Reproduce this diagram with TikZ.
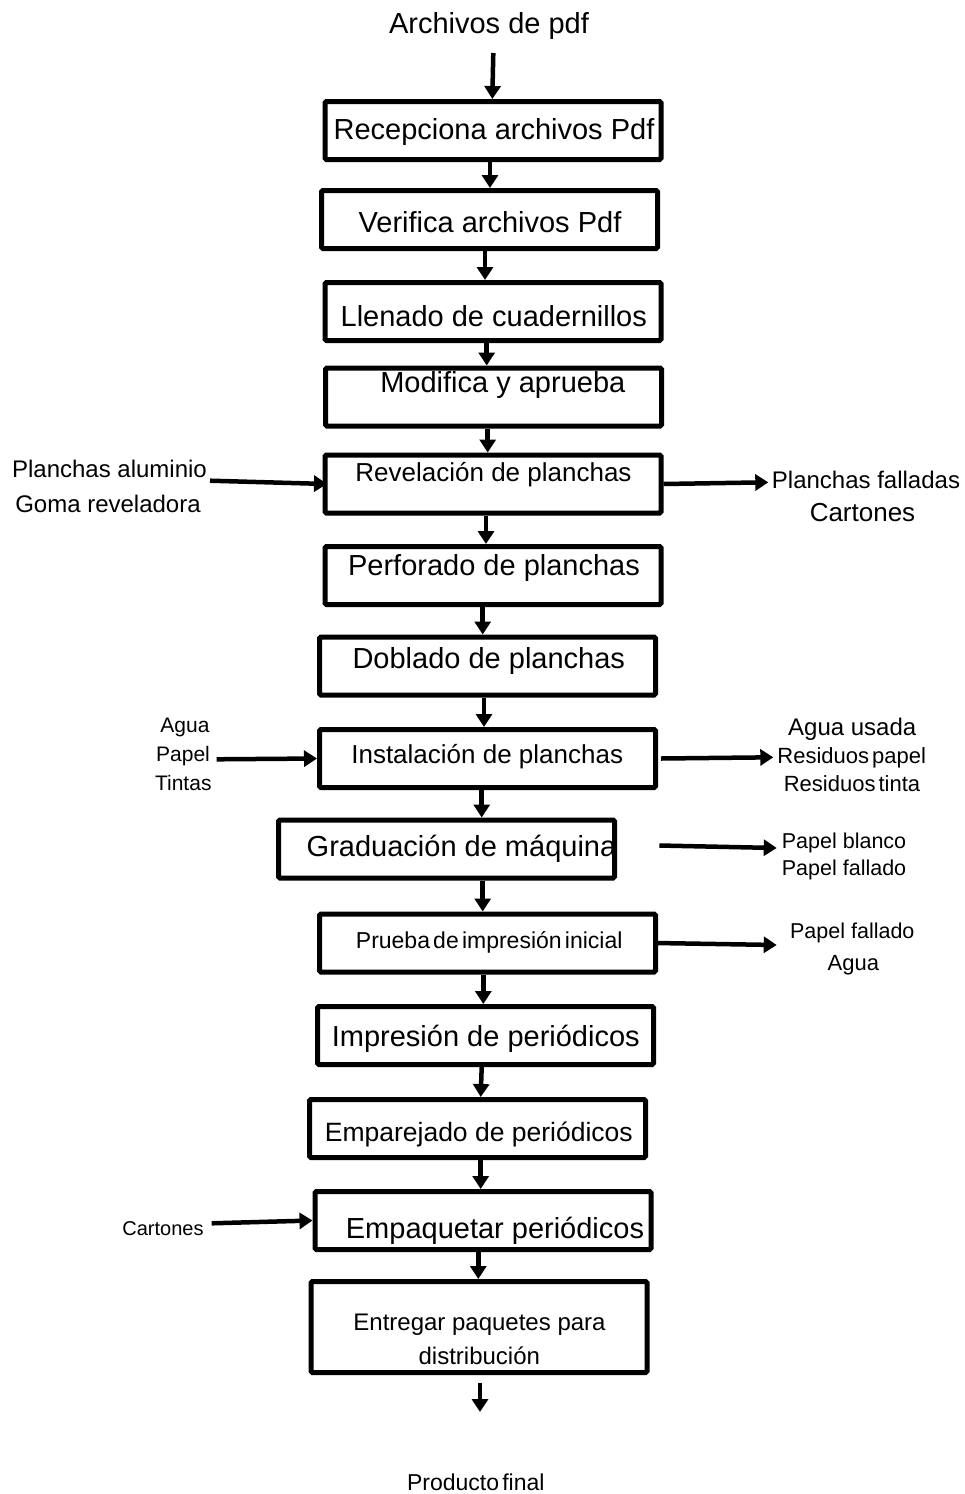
\documentclass[tikz,border=0pt]{standalone}
\usepackage{fontspec}
\setmainfont{Liberation Sans}
\newfontfamily\tightfont{Liberation Sans}[WordSpace={0.5,0,0}]
\usetikzlibrary{arrows.meta}
\tikzset{
  box/.style={draw, line width=5pt, rounded corners=1.5pt, minimum width=336pt, minimum height=58pt, inner sep=0pt},
  arr/.style={line width=4.5pt, -{Triangle[length=13pt,width=16pt]}},
  txt/.style={inner sep=0pt, anchor=base, font=\fontsize{#1}{#1}\selectfont},
  ttxt/.style={inner sep=0pt, anchor=base, font=\tightfont\fontsize{#1}{#1}\selectfont},
}
\begin{document}
\begin{tikzpicture}[x=1pt,y=-1pt]
\useasboundingbox (0,0) rectangle (965,1494);
% title
\node[txt=29] (title) at (489,33.3) {Archivos de pdf};
% boxes
\node[box] (b1) at (493,130.5) {};
\node[box] (b2) at (489.5,219.5) {};
\node[box] (b3) at (493,311.5) {};
\node[box] (b4) at (493.5,397) {};
\node[box] (b5) at (493,484) {};
\node[box] (b6) at (493,575.5) {};
\node[box] (b7) at (487.5,666) {};
\node[box] (b8) at (487.5,758.5) {};
\node[box] (b9) at (446.5,849) {};
\node[box] (b10) at (487.5,943) {};
\node[box] (b11) at (485.5,1035.5) {};
\node[box] (b12) at (477.5,1128.5) {};
\node[box] (b13) at (483,1220.5) {};
\node[box, minimum height=91pt] (b14) at (479,1327) {};
% box texts
\node[txt=29] (t1) at (494,139) {Recepciona archivos Pdf};
\node[txt=29] (t2) at (490,232.7) {Verifica archivos Pdf};
\node[txt=29] (t3) at (493.8,326.7) {Llenado de cuadernillos};
\node[txt=29] (t4) at (502.8,392.3) {Modifica y aprueba};
\node[txt=26] (t5) at (493.5,481.5) {Revelación de planchas};
\node[txt=29] (t6) at (494,575) {Perforado de planchas};
\node[txt=29] (t7) at (488.8,668.3) {Doblado de planchas};
\node[txt=26] (t8) at (487.2,763.3) {Instalación de planchas};
\node[txt=29] (t9) at (461.5,856.7) {Graduación de máquina};
\node[ttxt=23] (t10) at (489.2,948.3) {Prueba de impresión inicial};
\node[txt=29] (t11) at (485.8,1046.7) {Impresión de periódicos};
\node[txt=26.5] (t12) at (478.8,1141.7) {Emparejado de periódicos};
\node[txt=29] (t13) at (495,1238.3) {Empaquetar periódicos};
\node[txt=24] (t14a) at (479.5,1330.7) {Entregar paquetes para};
\node[txt=24] (t14b) at (479.3,1364) {distribución};
\node[ttxt=23] (fin) at (475.8,1490) {Producto final};
% side texts
\node[txt=24] (l5a) at (109.5,477.3) {Planchas aluminio};
\node[txt=24] (l5b) at (108,512.7) {Goma reveladora};
\node[txt=24] (r5a) at (866,488) {Planchas falladas};
\node[txt=26] (r5b) at (862.5,521.7) {Cartones};
\node[txt=21] (l8a) at (185,732.7) {Agua};
\node[txt=21] (l8b) at (183,761) {Papel};
\node[txt=21] (l8c) at (183.3,790) {Tintas};
\node[txt=24] (r8a) at (852.2,735) {Agua usada};
\node[ttxt=22] (r8b) at (851.7,763.3) {Residuos papel};
\node[ttxt=22] (r8c) at (852,791.7) {Residuos tinta};
\node[txt=21.5, anchor=base west] (r9a) at (781.7,848.3) {Papel blanco};
\node[txt=21.5, anchor=base west] (r9b) at (781.7,875) {Papel fallado};
\node[txt=21.5] (r10a) at (852.3,938.3) {Papel fallado};
\node[txt=22] (r10b) at (853.3,970) {Agua};
\node[txt=20] (l13) at (163,1235) {Cartones};
% free ends
\coordinate (s0) at (493.3,53);
\coordinate (e14) at (480,1412);
\coordinate (sl5) at (210,480.7);
\coordinate (er5) at (768.3,482.3);
\coordinate (sl8) at (216.7,759.3);
\coordinate (er8) at (773.3,757.3);
\coordinate (s9) at (659.3,845.5);
\coordinate (e9) at (776.7,848);
\coordinate (er10) at (776.7,945);
\coordinate (sl13) at (211.7,1223.3);
% main flow
\draw[arr] (s0) -- ([xshift=-0.7pt]b1.north);
\draw[arr] ([xshift=-3pt]b1.south) -- ([xshift=0.5pt]b2.north);
\draw[arr] ([xshift=-4.5pt]b2.south) -- ([xshift=-8pt]b3.north);
\draw[arr] ([xshift=-6.3pt]b3.south) -- ([xshift=-6.8pt]b4.north);
\draw[arr] ([xshift=-5.8pt]b4.south) -- ([xshift=-5.3pt]b5.north);
\draw[arr] ([xshift=-7pt]b5.south) -- ([xshift=-7pt]b6.north);
\draw[arr] ([xshift=-10.3pt]b6.south) -- ([xshift=-4.8pt]b7.north);
\draw[arr] ([xshift=-3.5pt]b7.south) -- ([xshift=-3.5pt]b8.north);
\draw[arr] ([xshift=-5.8pt]b8.south) -- ([xshift=35.2pt]b9.north);
\draw[arr] ([xshift=36.2pt]b9.south) -- ([xshift=-4.8pt]b10.north);
\draw[arr] ([xshift=-4.2pt]b10.south) -- ([xshift=-2.2pt]b11.north);
\draw[arr] ([xshift=-3.8pt]b11.south) -- ([xshift=3.2pt]b12.north);
\draw[arr] ([xshift=3.2pt]b12.south) -- ([xshift=-2.3pt]b13.north);
\draw[arr] ([xshift=-4.7pt]b13.south) -- ([xshift=-0.7pt]b14.north);
\draw[arr] ([xshift=1pt,yshift=-7.5pt]b14.south) -- (e14);
% side flows
\draw[arr] (sl5) -- ([xshift=4.5pt]b5.west);
\draw[arr] (b5.east) -- (er5);
\draw[arr] (sl8) -- (b8.west);
\draw[arr] ([xshift=3pt]b8.east) -- (er8);
\draw[arr] (s9) -- (e9);
\draw[arr] ([xshift=-2pt]b10.east) -- (er10);
\draw[arr] (sl13) -- (b13.west);
\end{tikzpicture}
\end{document}
